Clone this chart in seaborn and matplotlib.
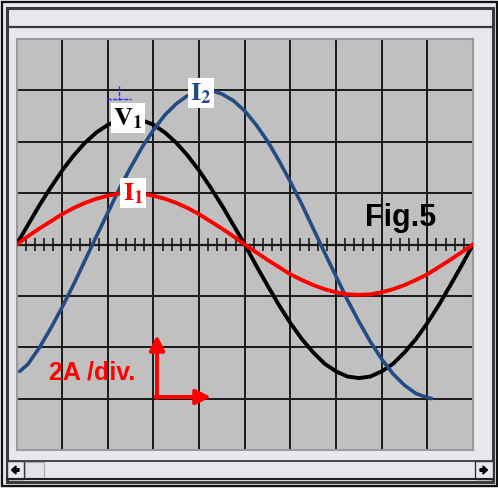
import numpy as np
import pandas as pd
import matplotlib
matplotlib.use("Agg")
import matplotlib.pyplot as plt
from matplotlib.patches import Rectangle, FancyArrow
import seaborn as sns

# ---- data (x in divisions, y in divisions) ----
x_div = [0, 0.25, 0.5, 0.75, 1, 1.25, 1.5, 1.75, 2, 2.25, 2.5, 2.75, 3, 3.25, 3.5, 3.75,
         4, 4.25, 4.5, 4.75, 5, 5.25, 5.5, 5.75, 6, 6.25, 6.5, 6.75, 7, 7.25, 7.5, 7.75,
         8, 8.25, 8.5, 8.75, 9, 9.25, 9.5, 9.75, 10]
v1 = [0, 0.38, 0.76, 1.11, 1.44, 1.73, 1.98, 2.18, 2.33, 2.42, 2.45, 2.42, 2.33, 2.18,
      1.98, 1.73, 1.44, 1.11, 0.76, 0.38, 0,
      -0.41, -0.80, -1.18, -1.53, -1.84, -2.10, -2.32, -2.47, -2.57, -2.6, -2.57, -2.47,
      -2.32, -2.10, -1.84, -1.53, -1.18, -0.80, -0.41, 0]
i1 = [0, 0.16, 0.31, 0.45, 0.59, 0.71, 0.81, 0.89, 0.95, 0.99, 1.0, 0.99, 0.95, 0.89,
      0.81, 0.71, 0.59, 0.45, 0.31, 0.16, 0,
      -0.15, -0.30, -0.44, -0.58, -0.69, -0.79, -0.87, -0.93, -0.97, -0.98, -0.97, -0.93,
      -0.87, -0.79, -0.69, -0.58, -0.44, -0.30, -0.15, 0]
x_i2 = [0.07, 0.25, 0.5, 0.75, 1, 1.25, 1.5, 1.75, 2, 2.25, 2.5, 2.75, 3, 3.25, 3.5, 3.75,
        4, 4.25, 4.5, 4.75, 5, 5.25, 5.5, 5.75, 6, 6.25, 6.5, 6.75, 7, 7.25, 7.5, 7.75,
        8, 8.25, 8.5, 8.75, 9, 9.1]
i2 = [-2.47, -2.33, -2.01, -1.63, -1.22, -0.78, -0.31, 0.16, 0.62, 1.08, 1.5, 1.89, 2.23,
      2.52, 2.74, 2.90, 2.98, 3.0, 2.93, 2.80, 2.60, 2.33, 2.01, 1.63, 1.22, 0.78, 0.31,
      -0.16, -0.62, -1.08, -1.5, -1.89, -2.23, -2.52, -2.74, -2.90, -2.98, -3.0]

sns.set_style("white")
plt.rcParams["mathtext.fontset"] = "stix"

W, H = 498, 488
fig = plt.figure(figsize=(W / 100, H / 100), dpi=100, facecolor="#e9e7ee")

# ---- window chrome (pixel coordinates overlay) ----
bg = fig.add_axes([0, 0, 1, 1], zorder=0)
bg.set_xlim(0, W)
bg.set_ylim(H, 0)
bg.axis("off")
bg.add_patch(Rectangle((1.5, 1.5), W - 3, H - 3.5, fill=False, ec="#111111", lw=1.6))
bg.add_patch(Rectangle((6.5, 7.5), 486, 474, fill=False, ec="#3a3a3a", lw=2.2))
bg.plot([6.5, 492.5], [27, 27], color="#3a3a3a", lw=1.6)
# scrollbar
bg.plot([6.5, 492.5], [460.5, 460.5], color="#3a3a3a", lw=1.3)
bg.plot([6.5, 492.5], [479, 479], color="#222222", lw=1.5)
bg.add_patch(Rectangle((6.5, 461), 17.5, 18, fc="#e9e7ee", ec="#333333", lw=1.0))
bg.add_patch(Rectangle((25, 462), 19, 16, fc="#e4e3e8", ec="#aaaaaa", lw=0.8))
bg.add_patch(Rectangle((475, 461), 17.5, 18, fc="#e9e7ee", ec="#333333", lw=1.0))
bg.add_patch(FancyArrow(19, 470, -7.5, 0, width=2.6, head_width=8, head_length=4.5,
                        length_includes_head=True, color="black"))
bg.add_patch(FancyArrow(480, 470, 7.5, 0, width=2.6, head_width=8, head_length=4.5,
                        length_includes_head=True, color="black"))

# ---- oscilloscope screen ----
x0, x1, y0, y1 = 16.5, 473, 39, 450
ax = fig.add_axes([x0 / W, 1 - y1 / H, (x1 - x0) / W, (y1 - y0) / H], zorder=1)
ax.set_facecolor("#c0c0c0")
ax.set_xlim(0, 10)
ax.set_ylim(-4, 4)
ax.set_xticks(range(0, 11))
ax.set_yticks(range(-4, 5))
ax.grid(True, color="#1a1a1a", lw=1.4)
ax.tick_params(length=0, labelbottom=False, labelleft=False)
for s in ax.spines.values():
    s.set_color("#9a9a9a")
    s.set_linewidth(1.5)

# centre axis ticks
minor = [t for t in np.arange(0.2, 10, 0.2) if abs(t - round(t)) > 0.05]
ax.vlines(minor, -0.12, 0.12, color="#1a1a1a", lw=1.2, zorder=2)
ax.axhline(0, color="#1a1a1a", lw=1.6, zorder=2)

df_v = pd.DataFrame({"x": x_div, "y": v1})
df_i1 = pd.DataFrame({"x": x_div, "y": i1})
df_i2 = pd.DataFrame({"x": x_i2, "y": i2})
sns.lineplot(data=df_v, x="x", y="y", ax=ax, color="black", lw=2.8, zorder=3, sort=False)
sns.lineplot(data=df_i2, x="x", y="y", ax=ax, color="#234b84", lw=2.6, zorder=3, sort=False)
sns.lineplot(data=df_i1, x="x", y="y", ax=ax, color="#ff0000", lw=2.8, zorder=4, sort=False)
ax.set_xlabel("")
ax.set_ylabel("")

def px(xp, yp):
    return ((xp - x0) / (x1 - x0) * 10, 4 - (yp - y0) / (y1 - y0) * 8)

# crosshair near V1
ax.plot(*zip(px(107, 99), px(131, 99)), color="#2a2aff", lw=1.0, ls=(0, (3, 1)), zorder=5)
ax.plot(*zip(px(119, 86), px(119, 100)), color="#2a2aff", lw=1.0, ls=(0, (3, 1)), zorder=5)

box = dict(facecolor="white", edgecolor="none", pad=1.8)
ax.text(*px(128, 118), r"$\mathbf{V}_{\mathbf{1}}$", fontsize=19, color="black",
        ha="center", va="center", bbox=box, zorder=6)
ax.text(*px(201, 93), r"$\mathbf{I}_{\mathbf{2}}$", fontsize=19, color="#234b84",
        ha="center", va="center", bbox=box, zorder=6)
ax.text(*px(133, 193), r"$\mathbf{I}_{\mathbf{1}}$", fontsize=19, color="#ff0000",
        ha="center", va="center", bbox=box, zorder=6)

ax.text(*px(401, 218), "Fig.5", fontsize=22, fontweight="bold", family="Liberation Sans",
        color="black", ha="center", va="center", zorder=6)
ax.text(*px(92, 372), "2A /div.", fontsize=18, fontweight="bold", family="Liberation Sans",
        color="#ff0000", ha="center", va="center", zorder=6)

# red arrows
ax.annotate("", xy=px(157, 335), xytext=px(157, 398),
            arrowprops=dict(arrowstyle="-|>,head_length=0.9,head_width=0.45", color="#ff0000",
                            lw=2.8, shrinkA=0, shrinkB=0), zorder=6)
ax.annotate("", xy=px(211, 397), xytext=px(155.5, 397),
            arrowprops=dict(arrowstyle="-|>,head_length=0.9,head_width=0.45", color="#ff0000",
                            lw=2.8, shrinkA=0, shrinkB=0), zorder=6)

fig.savefig("out.png", dpi=100, facecolor=fig.get_facecolor())
